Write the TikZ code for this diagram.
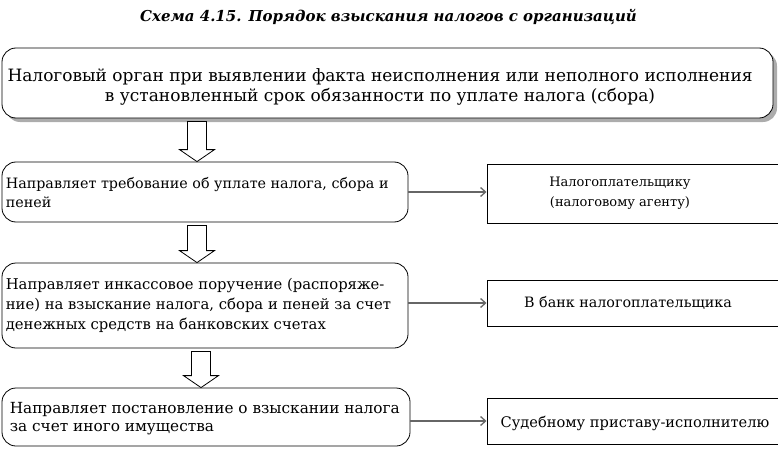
\documentclass[tikz,border=0pt]{standalone}
\usepackage{fontspec}
\setmainfont{DejaVu Serif}
\usetikzlibrary{calc,shadows,arrows.meta}
\newcommand\hollowarr[3]{%
  \draw[harrow] let \p1=(#1.south), \p2=(#2.north) in
    (#3-9.5,\y1-3) -- (#3+9.5,\y1-3) -- (#3+9.5,\y2+12) -- (#3+17.5,\y2+12)
    -- (#3,\y2) -- (#3-17.5,\y2+12) -- (#3-9.5,\y2+12) -- cycle;}
\tikzset{
  rbox/.style={draw=black, line width=0.8pt, rounded corners=14pt, inner sep=0pt, fill=white},
  sqbox/.style={draw=black, line width=1pt, inner sep=0pt},
  btxt/.style={align=left, anchor=west, inner sep=0pt},
  harrow/.style={draw=black, line width=0.8pt, fill=white},
  conn/.style={draw=gray!80!black, line width=1.6pt, -{Straight Barb[length=5pt,width=9pt,line width=1.3pt]}},
}
\begin{document}
\begin{tikzpicture}[x=1pt,y=1pt]
\useasboundingbox (0,0) rectangle (778,448);
% title
\node[font=\bfseries\itshape\fontsize{15}{17}\selectfont, inner sep=0pt] (title) at (388.5,431)
  {Схема 4.15. Порядок взыскания налогов с организаций};
% top box
\node[rbox, minimum width=771pt, minimum height=70pt,
  drop shadow={shadow xshift=4pt, shadow yshift=-4pt, fill=gray!65, opacity=1}] (top) at (387.5,365) {};
\node[align=center, inner sep=0pt, font=\fontsize{17}{20}\selectfont] (toptxt) at (380,361.5)
  {Налоговый орган при выявлении факта неисполнения или неполного исполнения\\
   в установленный срок обязанности по уплате налога (сбора)};
% left boxes
\node[rbox, minimum width=406pt, minimum height=60pt] (b2) at (205,256) {};
\node[btxt, font=\fontsize{14.3}{19.5}\selectfont] (b2t) at ([xshift=4pt,yshift=-0.5pt]b2.west)
  {Направляет требование об уплате налога, сбора и\\пеней};
\node[rbox, minimum width=406pt, minimum height=85pt] (b3) at (205,142.5) {};
\node[btxt, font=\fontsize{14.8}{20}\selectfont] (b3t) at ([xshift=4pt]b3.west)
  {Направляет инкассовое поручение (распоряже-\\ние) на взыскание налога, сбора и пеней за счет\\денежных средств на банковских счетах};
\node[rbox, minimum width=408pt, minimum height=58pt] (b4) at (206,31) {};
\node[btxt, font=\fontsize{15.3}{18}\selectfont] (b4t) at ([xshift=8pt,yshift=-2pt]b4.west)
  {Направляет постановление о взыскании налога\\за счет иного имущества};
% right boxes
\node[sqbox, minimum width=295pt, minimum height=59pt] (r1) at (634.5,254.5) {};
\node[align=center, inner sep=0pt, font=\fontsize{13}{20}\selectfont] (r1t) at (620,254.5)
  {Налогоплательщику\\(налоговому агенту)};
\node[sqbox, minimum width=295pt, minimum height=46pt] (r2) at (634.5,145) {};
\node[inner sep=0pt, font=\fontsize{14.3}{20}\selectfont] (r2t) at (628,145)
  {В банк налогоплательщика};
\node[sqbox, minimum width=295pt, minimum height=46pt] (r3) at (634.5,27) {};
\node[inner sep=0pt, font=\fontsize{14.6}{20}\selectfont] (r3t) at (635,25)
  {Судебному приставу-исполнителю};
% hollow arrows
\hollowarr{top}{b2}{197}
\hollowarr{b2}{b3}{197}
\hollowarr{b3}{b4}{201}
% connectors
\draw[conn] (b2.east) -- (b2.east -| r1.west);
\draw[conn] (b3.east |- r2.west) -- (r2.west);
\draw[conn] (b4.east |- r3.west) -- (r3.west);
\end{tikzpicture}
\end{document}
